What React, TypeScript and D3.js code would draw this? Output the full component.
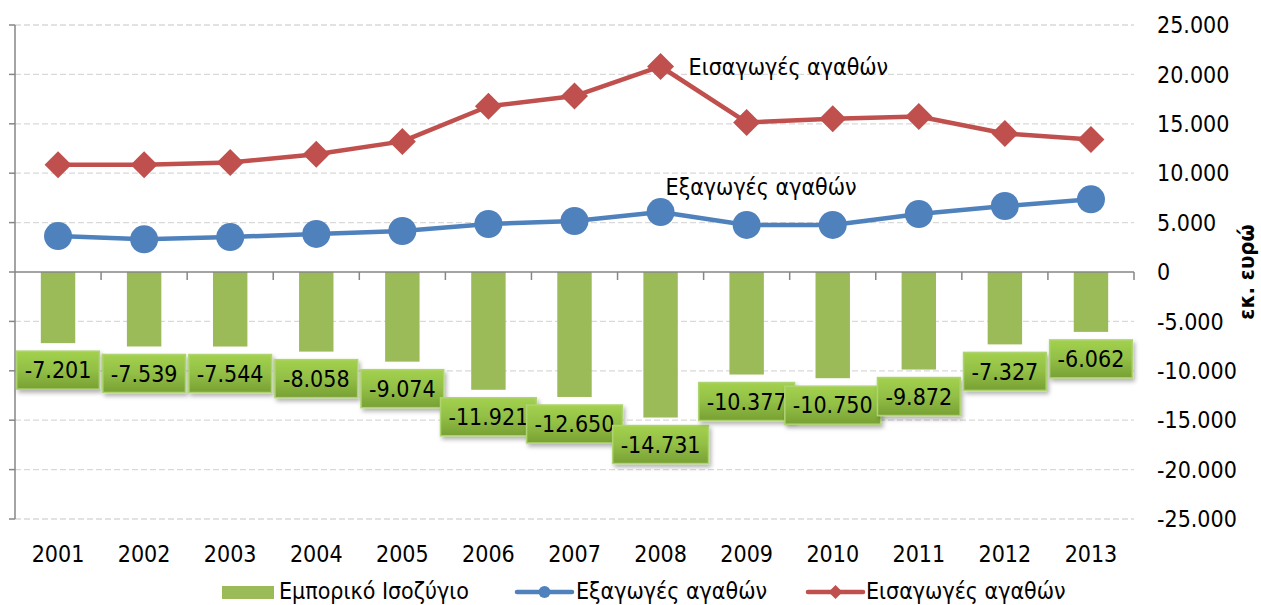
import React from "react";
import * as d3 from "d3";

const years = ["2001","2002","2003","2004","2005","2006","2007","2008","2009","2010","2011","2012","2013"];
const balance = [-7201, -7539, -7544, -8058, -9074, -11921, -12650, -14731, -10377, -10750, -9872, -7327, -6062];
const exportsV = [3640, 3310, 3540, 3850, 4150, 4860, 5160, 6070, 4760, 4760, 5870, 6680, 7360];
const importsV = [10850, 10850, 11080, 11910, 13220, 16780, 17810, 20800, 15140, 15510, 15740, 14010, 13420];
const yTicks = [25000, 20000, 15000, 10000, 5000, 0, -5000, -10000, -15000, -20000, -25000];
const seriesNames = ["Εμπορικό Ισοζύγιο", "Εξαγωγές αγαθών", "Εισαγωγές αγαθών"];
const axisTitle = "εκ. ευρώ";

const FONT = "'DejaVu Sans Condensed', 'DejaVu Sans', sans-serif";
const GREEN = "#9BBB59";
const BLUE = "#4F81BD";
const RED = "#C0504D";

const locale = d3.formatLocale({ decimal: ",", thousands: ".", grouping: [3], currency: ["", "€"], minus: "-" });
const fmt = locale.format(",.0f");

let ctx: CanvasRenderingContext2D | null = null;
function measure(t: string, size: number) {
  if (!ctx) ctx = document.createElement("canvas").getContext("2d");
  if (!ctx) return t.length * size * 0.57;
  ctx.font = `${size}px ${FONT}`;
  return ctx.measureText(t).width;
}

export default function App() {
  const W = 1261, H = 605;
  const x = d3.scaleBand<string>().domain(years).range([15, 1134]).padding(0);
  const y = d3.scaleLinear().domain([-25000, 25000]).range([519, 25]);
  const bw = x.bandwidth();
  const cx = (yr: string) => (x(yr) as number) + bw / 2;
  const barW = bw * 0.4;

  const lineGen = d3.line<number>().x((_, i) => cx(years[i])).y((v) => y(v));
  const fs = 23;

  const diamond = (px: number, py: number, r: number) =>
    `M${px},${py - r}L${px + r},${py}L${px},${py + r}L${px - r},${py}Z`;

  return (
    <div style={{ position: "absolute", left: 0, top: 0 }}>
      <svg width={W} height={H} style={{ display: "block", fontFamily: FONT }}>
        <defs>
          <linearGradient id="lbl" x1="0" y1="0" x2="0" y2="1">
            <stop offset="0" stopColor="#A3D14E" />
            <stop offset="0.5" stopColor="#92BF45" />
            <stop offset="1" stopColor="#78A034" />
          </linearGradient>
          <filter id="sh" x="-20%" y="-20%" width="150%" height="160%">
            <feDropShadow dx="2" dy="3" stdDeviation="2" floodColor="#000" floodOpacity="0.3" />
          </filter>
        </defs>
        <rect width={W} height={H} fill="#fff" />
        {yTicks.filter((t) => t !== 0).map((t) => (
          <line key={t} x1={15} x2={1134} y1={y(t)} y2={y(t)} stroke="#D9D9D9" strokeWidth={1.3} strokeDasharray="6,3" />
        ))}
        <line x1={15} x2={15} y1={y(25000)} y2={y(-25000)} stroke="#868686" strokeWidth={1.5} />
        {yTicks.map((t) => (
          <line key={"lt" + t} x1={9} x2={15} y1={y(t)} y2={y(t)} stroke="#868686" strokeWidth={1.5} />
        ))}
        {balance.map((v, i) => (
          <rect key={"b" + i} x={cx(years[i]) - barW / 2} y={y(0)} width={barW} height={y(v) - y(0)} fill={GREEN} />
        ))}
        <line x1={15} x2={1134} y1={y(0)} y2={y(0)} stroke="#868686" strokeWidth={1.5} />
        {years.map((yr) => (
          <line key={"xt" + yr} x1={(x(yr) as number) + bw} x2={(x(yr) as number) + bw} y1={y(0)} y2={y(0) + 8} stroke="#868686" strokeWidth={1.5} />
        ))}
        {yTicks.map((t) => (
          <text key={"yl" + t} x={1157} y={y(t)} dy="0.36em" fontSize={fs} fill="#000">{fmt(t)}</text>
        ))}
        <text transform={`translate(1246,${y(0)}) rotate(-90)`} textAnchor="middle" dy="0.36em" fontSize={22} fontWeight="bold" fill="#000">{axisTitle}</text>
        {years.map((yr) => (
          <text key={"xl" + yr} x={cx(yr)} y={554} dy="0.36em" textAnchor="middle" fontSize={fs} fill="#000">{yr}</text>
        ))}
        <path d={lineGen(importsV) || ""} fill="none" stroke={RED} strokeWidth={4.5} strokeLinejoin="round" />
        {importsV.map((v, i) => (
          <path key={"im" + i} d={diamond(cx(years[i]), y(v), 13.5)} fill={RED} />
        ))}
        <path d={lineGen(exportsV) || ""} fill="none" stroke={BLUE} strokeWidth={4.5} strokeLinejoin="round" />
        {exportsV.map((v, i) => (
          <circle key={"ex" + i} cx={cx(years[i])} cy={y(v)} r={14} fill={BLUE} />
        ))}
        <text x={cx("2008") + 28} y={y(importsV[7])} dy="0.36em" fontSize={fs} fill="#000">{seriesNames[2]}</text>
        <text x={cx("2008") + 5} y={y(exportsV[7]) - 25} dy="0.36em" fontSize={fs} fill="#000">{seriesNames[1]}</text>
        {balance.map((v, i) => {
          const t = fmt(v);
          const w = measure(t, fs) + 16;
          const top = y(v) + 8;
          const c = cx(years[i]);
          return (
            <g key={"dl" + i}>
              <rect x={c - w / 2} y={top} width={w} height={38} fill="url(#lbl)" stroke="#AED472" strokeWidth={1.5} filter="url(#sh)" />
              <text x={c} y={top + 19} dy="0.36em" textAnchor="middle" fontSize={fs} fill="#000">{t}</text>
            </g>
          );
        })}
        <rect x={222} y={586} width={52} height={13} fill={GREEN} />
        <text x={279} y={591} dy="0.36em" fontSize={fs} fill="#000">{seriesNames[0]}</text>
        <line x1={517} x2={572} y1={592} y2={592} stroke={BLUE} strokeWidth={4.5} strokeLinecap="round" />
        <circle cx={544.5} cy={592} r={6} fill={BLUE} />
        <text x={576} y={591} dy="0.36em" fontSize={fs} fill="#000">{seriesNames[1]}</text>
        <line x1={808} x2={863} y1={592} y2={592} stroke={RED} strokeWidth={4.5} strokeLinecap="round" />
        <path d={diamond(835.5, 592, 7)} fill={RED} />
        <text x={866} y={591} dy="0.36em" fontSize={fs} fill="#000">{seriesNames[2]}</text>
      </svg>
    </div>
  );
}
